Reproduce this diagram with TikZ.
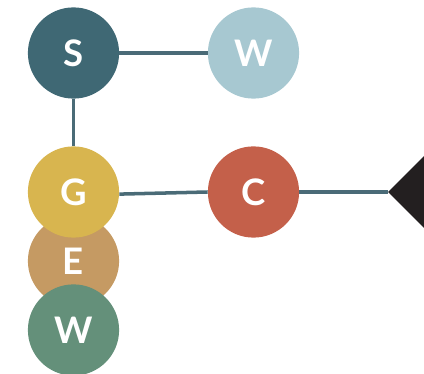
\documentclass[tikz,border=0pt]{standalone}
\usepackage{fontspec}
\setmainfont{Lato}
\usetikzlibrary{shapes.geometric}
\definecolor{sblue}{HTML}{3F6874}
\definecolor{wblue}{HTML}{A7C8D1}
\definecolor{gyellow}{HTML}{D8B54F}
\definecolor{cred}{HTML}{C4604A}
\definecolor{ebrown}{HTML}{C59A63}
\definecolor{wgreen}{HTML}{64907A}
\definecolor{linec}{HTML}{4A6B77}
\definecolor{tipc}{HTML}{231F20}
\begin{document}
\begin{tikzpicture}[x=0.025cm,y=-0.025cm,
    ball/.style={circle,minimum size=2.28cm,inner sep=0pt,text=white,
      font=\fontsize{26}{26}\selectfont\bfseries},
    link/.style={line width=2.5pt,draw=linec}]
    \clip (0,0) rectangle (424,374);
    % 圆
    \node[ball,fill=sblue] (s) at (73.5,53) {S};
    \node[ball,fill=wblue] (w1) at (253.5,53) {W};
    \node[ball,fill=ebrown] (e) at (73.5,261) {E};
    \node[ball,fill=gyellow] (g) at (73.5,192) {G};
    \node[ball,fill=wgreen] (w2) at (73.5,330) {W};
    \node[ball,fill=cred] (c) at (253.5,192) {C};
    % 右侧三角
    \node[diamond,fill=tipc,inner sep=0pt,minimum width=2.25cm,minimum height=2.25cm] (tip) at (433,192) {};
    % 连线
    \draw[link] (s) -- (w1);
    \draw[link] (s) -- (g);
    \draw[link] ([yshift=-1.5]g.east) -- (c.west);
    \draw[link] (c) -- (tip);
  \end{tikzpicture}
\end{document}
